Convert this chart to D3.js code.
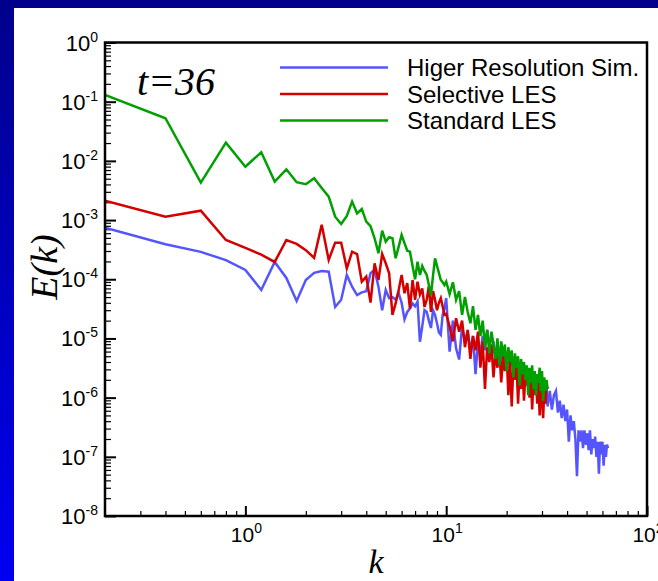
<!DOCTYPE html>
<html>
<head>
<meta charset="utf-8">
<script src="https://cdn.jsdelivr.net/npm/d3@7"></script>
<style>
  html, body { margin: 0; padding: 0; background: #fff; }
  svg { display: block; }
</style>
</head>
<body>
<div id="chart"></div>
<script>
// ---------------- DATA ----------------
const seriesNames = ["Higer Resolution Sim.", "Selective LES", "Standard LES"];
const seriesColors = ["#5555ff", "#d40000", "#00a000"];

// wavenumbers shared by the two LES runs
const kLES = [
  0.2,0.4,0.6,0.8,1.0,1.2,1.4,1.6,1.8,2.0,
  2.2,2.4,2.6,2.8,3.0,3.2,3.4,3.6,3.8,4.0,
  4.2,4.4,4.6,4.8,5.0,5.2,5.4,5.6,5.8,6.0,
  6.2,6.4,6.6,6.8,7.0,7.2,7.4,7.6,7.8,8.0,
  8.2,8.4,8.6,8.8,9.0,9.2,9.4,9.6,9.8,10.0,
  10.4,10.8,11.2,11.6,12.0,12.4,12.8,13.2,13.6,14.0,
  14.4,14.8,15.2,15.6,16.0,16.4,16.8,17.2,17.6,18.0,
  18.4,18.8,19.2,19.6,20.0,20.4,20.8,21.2,21.6,22.0,
  22.4,22.8,23.2,23.6,24.0,24.4,24.8,25.2,25.6,26.0,
  26.4,26.8,27.2,27.6,28.0,28.4,28.8,29.2,29.6,30.0,
  30.4,30.8,31.2,31.6,32.0
];
// extra wavenumbers reached only by the higher resolution run
const kHighExtra = [
  32.8,33.6,34.4,35.2,36.0,36.8,37.6,38.4,39.2,40.0,
  40.8,41.6,42.4,43.2,44.0,44.8,45.6,46.4,47.2,48.0,
  48.8,49.6,50.4,51.2,52.0,52.8,53.6,54.4,55.2,56.0,
  56.8,57.6,58.4,59.2,60.0,60.8,61.6,62.4,63.2,64.0
];

const eHighRes = [
  7.4e-4,3.9e-4,2.9e-4,2.1e-4,1.44e-4,6.6e-5,1.96e-4,1.05e-4,4.3e-5,9.7e-5,
  1.28e-4,1.38e-4,1.34e-4,3.4e-5,4.5e-5,1.18e-4,7.5e-5,5.4e-5,6.0e-5,6.3e-5,
  1.26e-4,1.44e-4,7.5e-5,3.0e-5,6.6e-5,4.8e-5,5.0e-5,4.5e-5,5.8e-5,4.0e-5,
  2.1e-5,2.8e-5,3.2e-5,3.9e-5,3.5e-5,4.2e-5,8.8e-6,1.6e-5,3.0e-5,2.8e-5,
  2.0e-5,1.5e-5,3.0e-5,2.5e-5,1.8e-5,1.26e-5,1.15e-5,2.5e-5,3.2e-5,4.8e-5,
  6.0e-6,2.0e-5,6.8e-6,4.4e-6,1.6e-5,8.9e-6,1.3e-5,6.3e-6,1.1e-5,2.5e-6,
  8.9e-6,5.6e-6,1.1e-5,6.3e-6,1.4e-5,7.9e-6,5.0e-6,8.9e-6,4.0e-6,7.9e-6,
  4.5e-6,7.1e-6,3.5e-6,6.3e-6,3.2e-6,5.6e-6,3.5e-6,5.0e-6,2.5e-6,4.5e-6,
  2.8e-6,4.0e-6,2.0e-6,3.5e-6,2.2e-6,3.5e-6,1.8e-6,3.2e-6,2.0e-6,2.8e-6,
  1.4e-6,2.5e-6,1.6e-6,2.5e-6,1.3e-6,2.2e-6,1.4e-6,2.0e-6,1.0e-6,1.8e-6,
  8.9e-7,1.6e-6,7.9e-7,1.4e-6,7.1e-7,
  1.3e-6,6.3e-7,1.1e-6,1.3e-6,5.6e-7,8.9e-7,4.5e-7,7.6e-7,4.0e-7,6.3e-7,
  1.8e-7,5.0e-7,2.8e-7,4.0e-7,2.0e-7,4.7e-8,2.8e-7,1.8e-7,2.8e-7,1.4e-7,
  2.8e-7,1.6e-7,2.5e-7,1.3e-7,2.8e-7,1.1e-7,2.0e-7,1.4e-7,2.2e-7,1.0e-7,
  1.8e-7,5.2e-8,1.8e-7,1.1e-7,1.8e-7,7.1e-8,1.6e-7,1.0e-7,1.6e-7,1.4e-7
];

const eSelective = [
  2.13e-3,1.14e-3,1.44e-3,4.6e-4,3.4e-4,2.6e-4,1.96e-4,4.6e-4,3.96e-4,3.1e-4,
  2.3e-4,8.3e-4,2.12e-4,4.15e-4,4.15e-4,1.53e-4,2.92e-4,2.67e-4,9.1e-5,1.11e-4,
  4.03e-5,1.86e-4,9.7e-5,2.67e-4,1.86e-4,1.26e-4,2.5e-5,3.9e-5,6.6e-5,1.18e-4,
  5.8e-5,8.6e-5,3.2e-5,9.7e-5,4.5e-5,9.1e-5,5.5e-5,7.0e-5,3.4e-5,4.5e-5,
  7.7e-5,2.8e-5,6.3e-5,4.5e-5,3.0e-5,4.0e-5,4.8e-5,3.5e-5,2.5e-5,2.6e-5,
  1.6e-5,8.9e-6,2.2e-5,1.3e-5,2.0e-5,7.1e-6,1.4e-5,4.5e-6,1.1e-5,6.3e-6,
  1.3e-5,3.2e-6,8.9e-6,1.4e-6,7.1e-6,4.0e-6,7.9e-6,2.2e-6,5.6e-6,3.2e-6,
  6.3e-6,1.8e-6,5.0e-6,2.8e-6,5.6e-6,1.1e-6,4.0e-6,7.1e-7,3.5e-6,2.0e-6,
  4.0e-6,7.9e-7,2.8e-6,1.4e-6,3.2e-6,8.9e-7,2.5e-6,1.6e-6,2.8e-6,1.0e-6,
  2.2e-6,6.3e-7,2.0e-6,1.1e-6,2.2e-6,7.9e-7,1.8e-6,5.0e-7,1.6e-6,8.9e-7,
  4.5e-7,1.4e-6,7.9e-7,1.6e-6,1.4e-6
];

const eStandard = [
  1.30e-1,5.25e-2,4.29e-3,2.03e-2,7.98e-3,1.40e-2,4.46e-3,7.21e-3,4.36e-3,4.03e-3,
  5.08e-3,3.48e-3,2.48e-3,1.14e-3,8.59e-4,1.17e-3,2.05e-3,1.30e-3,1.54e-3,9.4e-4,
  7.9e-4,4.93e-4,2.75e-4,6.62e-4,4.32e-4,5.12e-4,4.93e-4,2.26e-4,3.55e-4,5.6e-4,
  4.07e-4,3.04e-4,2.92e-4,1.68e-4,1.0e-4,1.98e-4,1.18e-4,1.68e-4,1.38e-4,1.18e-4,
  8.0e-5,5.4e-5,1.15e-4,2.26e-4,1.68e-4,1.28e-4,9.7e-5,8.9e-5,8.0e-5,9.1e-5,
  5.6e-5,8.9e-5,4.5e-5,6.3e-5,2.5e-5,5.0e-5,2.8e-5,1.8e-5,3.5e-5,1.4e-5,
  2.5e-5,1.1e-5,2.0e-5,7.1e-6,1.4e-5,5.6e-6,1.3e-5,7.9e-6,4.5e-6,1.0e-5,
  3.5e-6,8.9e-6,5.0e-6,7.9e-6,2.8e-6,7.1e-6,4.0e-6,6.3e-6,2.2e-6,5.6e-6,
  3.2e-6,5.0e-6,1.6e-6,4.5e-6,2.5e-6,4.0e-6,2.0e-6,3.5e-6,1.1e-6,3.2e-6,
  1.8e-6,3.5e-6,1.4e-6,2.8e-6,1.1e-6,2.5e-6,1.8e-6,3.2e-6,1.3e-6,2.8e-6,
  8.9e-7,2.2e-6,1.3e-6,2.0e-6,1.4e-6
];

const xDomain = [0.2, 100];
const yDomain = [1e-8, 1];
const xMajorTicks = [1, 10, 100];
const xTickExponents = ["0", "1", "2"];
const yMajorTicks = [1e-8, 1e-7, 1e-6, 1e-5, 1e-4, 1e-3, 1e-2, 1e-1, 1];
const yTickExponents = ["-8", "-7", "-6", "-5", "-4", "-3", "-2", "-1", "0"];
const timeLabel = "t=36";
const xTitle = "k";
const yTitle = "E(k)";

// ---------------- DRAW ----------------
const W = 658, H = 581;
const plot = { left: 105, right: 647, top: 42.5, bottom: 516 };
const sansFont = "'Liberation Sans', Arial, Helvetica, sans-serif";
const serifFont = "'Liberation Serif', 'Times New Roman', Times, serif";

const svg = d3.select("#chart").append("svg")
  .attr("width", W).attr("height", H);

// background frame
const defs = svg.append("defs");
const grad = defs.append("linearGradient").attr("id", "sideGrad")
  .attr("x1", 0).attr("y1", 0).attr("x2", 0).attr("y2", 1);
grad.append("stop").attr("offset", "0%").attr("stop-color", "#00008c");
grad.append("stop").attr("offset", "100%").attr("stop-color", "#0000f2");
defs.append("clipPath").attr("id", "plotClip").append("rect")
  .attr("x", plot.left).attr("y", plot.top)
  .attr("width", plot.right - plot.left).attr("height", plot.bottom - plot.top);

svg.append("rect").attr("x", 0).attr("y", 0).attr("width", W).attr("height", H).attr("fill", "#ffffff");
svg.append("rect").attr("x", 0).attr("y", 0).attr("width", 14).attr("height", H).attr("fill", "url(#sideGrad)");
svg.append("rect").attr("x", 0).attr("y", 0).attr("width", W).attr("height", 8).attr("fill", "#00008a");

const x = d3.scaleLog().domain(xDomain).range([plot.left, plot.right]);
const y = d3.scaleLog().domain(yDomain).range([plot.bottom, plot.top]);

const isPow10 = v => Math.abs(Math.log10(v) - Math.round(Math.log10(v))) < 1e-9;
const xMinor = x.ticks().filter(v => !isPow10(v) && v > xDomain[0] * 1.0001);
const yMinor = y.ticks().filter(v => !isPow10(v));

// y ticks (inside, pointing right)
const yAxisG = svg.append("g").attr("transform", `translate(${plot.left},0)`);
yAxisG.append("g").call(d3.axisRight(y).tickValues(yMinor).tickSize(6).tickFormat(""))
  .call(g => g.select(".domain").remove())
  .call(g => g.selectAll("line").attr("stroke", "#000").attr("stroke-width", 1.2));
yAxisG.append("g").call(d3.axisRight(y).tickValues(yMajorTicks).tickSize(11).tickFormat(""))
  .call(g => g.select(".domain").remove())
  .call(g => g.selectAll("line").attr("stroke", "#000").attr("stroke-width", 2));

// x ticks (inside, pointing up)
const xAxisG = svg.append("g").attr("transform", `translate(0,${plot.bottom})`);
xAxisG.append("g").call(d3.axisTop(x).tickValues(xMinor).tickSize(5).tickFormat(""))
  .call(g => g.select(".domain").remove())
  .call(g => g.selectAll("line").attr("stroke", "#000").attr("stroke-width", 1.2));
xAxisG.append("g").call(d3.axisTop(x).tickValues(xMajorTicks).tickSize(10).tickFormat(""))
  .call(g => g.select(".domain").remove())
  .call(g => g.selectAll("line").attr("stroke", "#000").attr("stroke-width", 2));

// y tick labels
yMajorTicks.forEach((v, i) => {
  const t = svg.append("text")
    .attr("x", 98).attr("y", y(v) + 8)
    .attr("text-anchor", "end")
    .attr("font-family", sansFont).attr("font-size", 22).attr("fill", "#000");
  t.append("tspan").text("10");
  t.append("tspan").attr("dy", -9).attr("font-size", 14).text(yTickExponents[i]);
});

// x tick labels
xMajorTicks.forEach((v, i) => {
  const t = svg.append("text")
    .attr("x", x(v) + 1).attr("y", 542)
    .attr("text-anchor", "middle")
    .attr("font-family", sansFont).attr("font-size", 21).attr("fill", "#000");
  t.append("tspan").text("10");
  t.append("tspan").attr("dy", -9).attr("font-size", 14).text(xTickExponents[i]);
});

// data lines
const line = d3.line().x(d => x(d[0])).y(d => y(d[1]));
const kHigh = kLES.concat(kHighExtra);
const series = [
  d3.zip(kHigh, eHighRes),
  d3.zip(kLES, eSelective),
  d3.zip(kLES, eStandard)
];
const linesG = svg.append("g").attr("clip-path", "url(#plotClip)");
series.forEach((s, i) => {
  linesG.append("path").datum(s)
    .attr("d", line)
    .attr("fill", "none")
    .attr("stroke", seriesColors[i])
    .attr("stroke-width", 2.5)
    .attr("stroke-linejoin", "miter");
});

// plot frame
svg.append("rect")
  .attr("x", plot.left).attr("y", plot.top)
  .attr("width", plot.right - plot.left).attr("height", plot.bottom - plot.top)
  .attr("fill", "none").attr("stroke", "#000").attr("stroke-width", 2.5);

// legend
const legendY = [67.5, 94, 120.5];
seriesNames.forEach((name, i) => {
  svg.append("line")
    .attr("x1", 280).attr("x2", 388)
    .attr("y1", legendY[i]).attr("y2", legendY[i])
    .attr("stroke", seriesColors[i]).attr("stroke-width", 2.5);
  svg.append("text")
    .attr("x", 407).attr("y", legendY[i] + 8.5)
    .attr("font-family", sansFont).attr("font-size", 24).attr("fill", "#000")
    .text(name);
});

// time annotation
svg.append("text")
  .attr("x", 137).attr("y", 95)
  .attr("font-family", serifFont).attr("font-style", "italic")
  .attr("font-size", 40).attr("fill", "#000")
  .text(timeLabel);

// axis titles
svg.append("text")
  .attr("x", (plot.left + plot.right) / 2).attr("y", 573)
  .attr("text-anchor", "middle")
  .attr("font-family", serifFont).attr("font-style", "italic")
  .attr("font-size", 34).attr("fill", "#000")
  .text(xTitle);

svg.append("text")
  .attr("transform", `translate(57,267) rotate(-90)`)
  .attr("text-anchor", "middle")
  .attr("font-family", serifFont).attr("font-style", "italic")
  .attr("font-size", 38).attr("fill", "#000")
  .text(yTitle);
</script>
</body>
</html>
